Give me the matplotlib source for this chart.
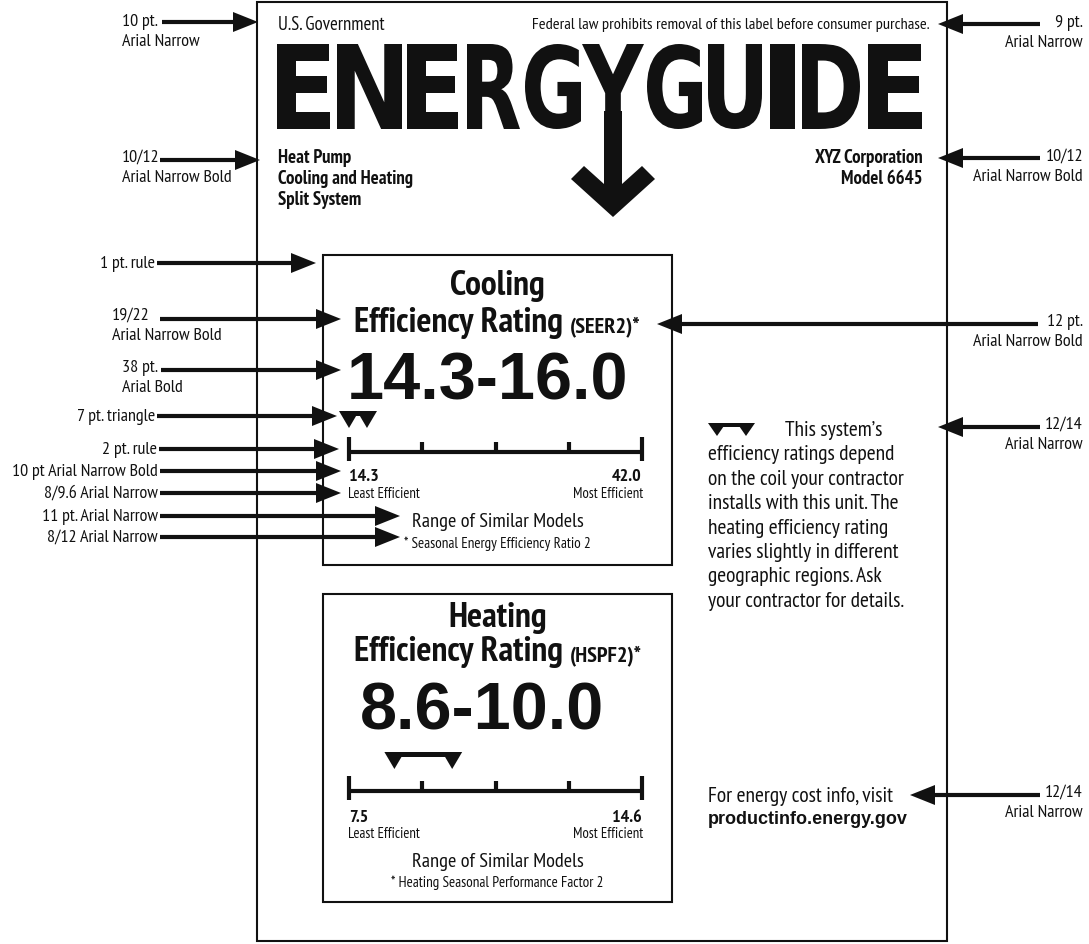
import numpy as np
import matplotlib
matplotlib.use("Agg")
import matplotlib.pyplot as plt
from matplotlib import font_manager
from matplotlib.font_manager import FontProperties
from matplotlib.textpath import TextPath
from matplotlib.patches import PathPatch, Polygon, Rectangle
from matplotlib.transforms import Affine2D

# pick a narrow sans with a real bold face (Arial Narrow stand-in)
faces = {}
for f in font_manager.fontManager.ttflist:
    try:
        w = int(f.weight)
    except (TypeError, ValueError):
        w = 700 if "bold" in str(f.weight) else 400
    faces.setdefault(f.name, set()).add(w)
NARROW = "DejaVu Sans"
for cand in ["Liberation Sans Narrow", "Arial Narrow", "PT Sans Narrow", "Roboto Condensed",
             "Archivo Narrow", "Barlow Semi Condensed"]:
    ws = faces.get(cand, set())
    if ws and min(ws) <= 400 and max(ws) >= 700:
        NARROW = cand
        break
ARIAL = "Liberation Sans"
INK = "#111111"

# ── values printed on the label ───────────────────────────────────────────────
cool_range = [14.3, 16.0]
cool_scale = [14.3, 42.0]
heat_range = [8.6, 10.0]
heat_scale = [7.5, 14.6]
n_ticks = 5

header_left = ["Heat Pump", "Cooling and Heating", "Split System"]
header_right = ["XYZ Corporation", "Model 6645"]
note_lines = ["efficiency ratings depend", "on the coil your contractor",
              "installs with this unit. The", "heating efficiency rating",
              "varies slightly in different", "geographic regions. Ask",
              "your contractor for details."]
logo = "ENERGYGUIDE"

# callouts: (lines, text x, text y, arrow y, arrow start, arrow tip)
left_two = [(["10 pt.", "Arial Narrow"], 122, 22, 23, 162, 258),
            (["10/12", "Arial Narrow Bold"], 122, 158, 161, 160, 260),
            (["19/22", "Arial Narrow Bold"], 112, 316, 320, 160, 341),
            (["38 pt.", "Arial Bold"], 122, 368, 371, 161, 341)]
left_one = [("1 pt. rule", 264, 157, 316),
            ("7 pt. triangle", 417, 157, 337),
            ("2 pt. rule", 450, 159, 339),
            ("10 pt Arial Narrow Bold", 472, 160, 341),
            ("8/9.6 Arial Narrow", 494, 160, 341),
            ("11 pt. Arial Narrow", 517, 160, 400),
            ("8/12 Arial Narrow", 538, 160, 400)]
right_two = [(["9 pt.", "Arial Narrow"], 23, 25, 1040, 938),
             (["10/12", "Arial Narrow Bold"], 157, 159, 1040, 938),
             (["12 pt.", "Arial Narrow Bold"], 322, 325, 1038, 657),
             (["12/14", "Arial Narrow"], 425, 428, 1040, 938),
             (["12/14", "Arial Narrow"], 793, 796, 1040, 910)]

fig = plt.figure(figsize=(10.89, 9.45), dpi=100)
ax = fig.add_axes([0, 0, 1, 1])
ax.set_xlim(0, 1089)
ax.set_ylim(945, 0)
ax.axis("off")
renderer = fig.canvas.get_renderer()


def txt(x, y, s, size, bold=False, ha="left", va="center", family=NARROW):
    return ax.text(x, y, s, fontsize=size, fontweight="bold" if bold else "normal",
                   ha=ha, va=va, family=family, color=INK)


def arrow(x0, y, x1, head=25, half=10):
    d = np.sign(x1 - x0)
    base = x1 - d * head
    ax.plot([x0, base], [y, y], color=INK, lw=3, solid_capstyle="butt")
    ax.add_patch(Polygon([[base, y - half], [x1, y], [base, y + half]],
                         closed=True, fc=INK, ec="none"))


def triangles(xa, xb, top, w=20, h=17, bar=5):
    for x in (xa, xb):
        ax.add_patch(Polygon([[x - w / 2, top], [x + w / 2, top], [x, top + h]],
                             closed=True, fc=INK, ec="none"))
    ax.add_patch(Rectangle((xa, top), xb - xa, bar, fc=INK, ec="none"))


def rating_box(top, bottom, title, abbr, rng, scale, num_x, num_base,
               title_base, eff_base, y_tri, y_line, y_val, y_eff, y_range, y_foot, foot):
    ax.add_patch(Rectangle((323, top), 349, bottom - top, fill=False, ec=INK, lw=1.5))
    cx = 497.5
    txt(cx, title_base, title, 25.5, bold=True, ha="center", va="baseline")
    # "Efficiency Rating" + small "(SEER2)*", centred together
    t1 = txt(0, eff_base, "Efficiency Rating", 25.5, bold=True, va="baseline")
    t2 = txt(0, eff_base, f"({abbr})*", 16, bold=True, va="baseline")
    w1 = t1.get_window_extent(renderer).width
    w2 = t2.get_window_extent(renderer).width
    gap = 7
    start = cx - (w1 + gap + w2) / 2
    t1.set_x(start)
    t2.set_x(start + w1 + gap)
    txt(num_x, num_base, f"{rng[0]:.1f}-{rng[1]:.1f}", 48, bold=True, va="baseline", family=ARIAL)

    x0, x1 = 349, 642
    to_x = lambda v: x0 + (v - scale[0]) / (scale[1] - scale[0]) * (x1 - x0)
    ax.plot([x0, x1], [y_line, y_line], color=INK, lw=3, solid_capstyle="butt")
    for i, v in enumerate(np.linspace(scale[0], scale[1], n_ticks)):
        tx = to_x(v)
        if i in (0, n_ticks - 1):
            ax.plot([tx, tx], [y_line - 15, y_line + 9], color=INK, lw=3, solid_capstyle="butt")
        else:
            ax.plot([tx, tx], [y_line - 10, y_line], color=INK, lw=3, solid_capstyle="butt")
    triangles(to_x(rng[0]), to_x(rng[1]), y_tri)

    txt(x0, y_val, f"{scale[0]:.1f}", 13, bold=True)
    txt(x1, y_val, f"{scale[1]:.1f}", 13, bold=True, ha="right")
    txt(x0 - 1, y_eff, "Least Efficient", 10.6)
    txt(x1 + 1, y_eff, "Most Efficient", 10.6, ha="right")
    txt(cx, y_range, "Range of Similar Models", 14.7, ha="center")
    txt(cx, y_foot, foot, 10.9, ha="center")


# ── outer label ──────────────────────────────────────────────────────────────
ax.add_patch(Rectangle((257, 3), 690, 939, fill=False, ec=INK, lw=1.5))
txt(278, 25, "U.S. Government", 13.5)
txt(930, 25, "Federal law prohibits removal of this label before consumer purchase.", 11.8, ha="right")

# logo letters stretched into their slots
slots = [(277, 330), (337, 402), (407, 458), (467, 520), (525, 581), (582, 644),
         (647, 702), (708, 762), (770, 795), (802, 860), (868, 922)]
fp = FontProperties(family="DejaVu Sans", weight="bold")
for ch, (lx0, lx1) in zip(logo, slots):
    p = TextPath((0, 0), ch, size=100, prop=fp)
    b = p.get_extents()
    tr = Affine2D().translate(-b.x0, -b.y0).scale((lx1 - lx0) / b.width, -85 / b.height).translate(lx0, 130)
    ax.add_patch(PathPatch(tr.transform_path(p), fc=INK, ec="none"))

ax.add_patch(Polygon([[604, 112], [604, 185], [584, 167], [571, 180], [613, 218],
                      [655, 180], [642, 167], [622, 185], [622, 112]],
                     closed=True, fc=INK, ec="none"))

for i, s in enumerate(header_left):
    txt(278, 158 + 21 * i, s, 13.5, bold=True)
for i, s in enumerate(header_right):
    txt(923, 158 + 21 * i, s, 13.5, bold=True, ha="right")

rating_box(256, 566, "Cooling", "SEER2", cool_range, cool_scale, 347, 400,
           295, 332, 412, 453, 477, 494, 522, 544, "* Seasonal Energy Efficiency Ratio 2")
rating_box(595, 903, "Heating", "HSPF2", heat_range, heat_scale, 360, 730,
           627, 661, 753, 792, 818, 834, 862, 883, "* Heating Seasonal Performance Factor 2")

# side note
triangles(717, 746, 424, w=18, h=13, bar=4)
txt(785, 430, "This system\u2019s", 15.5)
for i, s in enumerate(note_lines):
    txt(708, 455 + 24.4 * i, s, 15.5)
txt(708, 797, "For energy cost info, visit", 15.5)
txt(708, 820, "productinfo.energy.gov", 13, bold=True, family=ARIAL)

# ── spec callouts ────────────────────────────────────────────────────────────
for lines, tx, ty, ay, x0, x1 in left_two:
    txt(tx, ty, lines[0], 13)
    txt(tx, ty + 20, lines[1], 13)
    arrow(x0, ay, x1)
for s, ay, x0, x1 in left_one:
    txt(x0 - 2, ay, s, 13, ha="right")
    arrow(x0, ay, x1)
for lines, ty, ay, x0, x1 in right_two:
    txt(1083, ty, lines[0], 13, ha="right")
    txt(1083, ty + 20, lines[1], 13, ha="right")
    arrow(x0, ay, x1)

fig.savefig("out.png", dpi=100)
